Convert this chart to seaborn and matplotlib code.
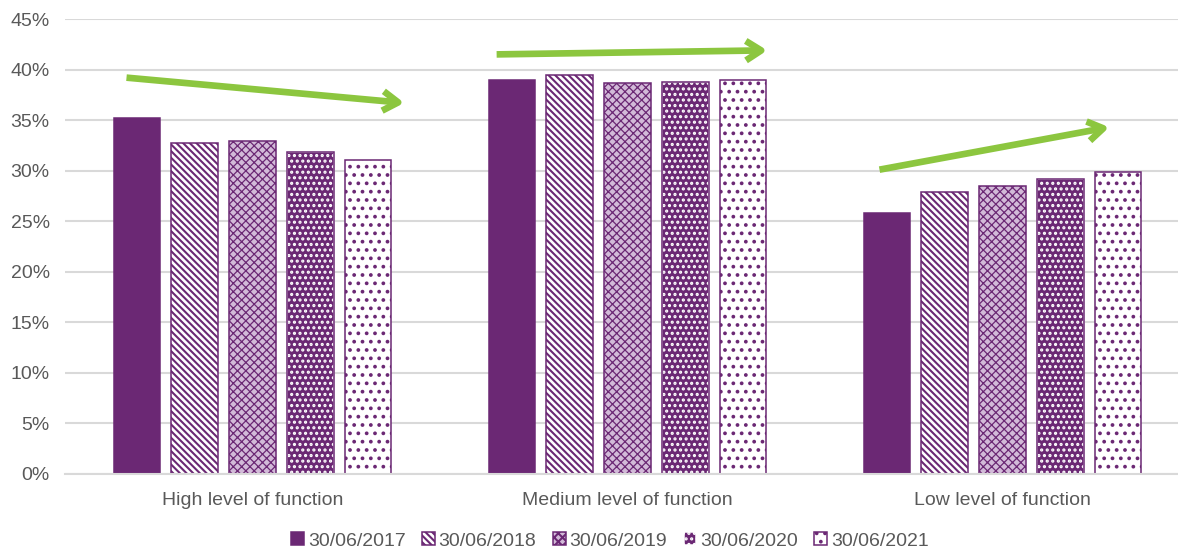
import numpy as np
import pandas as pd
import matplotlib
matplotlib.use('Agg')
import matplotlib.pyplot as plt
import seaborn as sns
from matplotlib.patches import Rectangle
from matplotlib.ticker import FuncFormatter

levels = ['High level of function', 'Medium level of function', 'Low level of function']
dates = ['30/06/2017', '30/06/2018', '30/06/2019', '30/06/2020', '30/06/2021']
share_2017 = [35.2, 39.0, 25.8]
share_2018 = [32.7, 39.5, 27.9]
share_2019 = [32.9, 38.7, 28.5]
share_2020 = [31.8, 38.8, 29.2]
share_2021 = [31.1, 39.0, 29.9]

# trend arrows (x in category units, y in %)
arrow_start = [(-0.336, 39.2), (0.651, 41.5), (1.672, 30.1)]
arrow_end = [(0.405, 36.7), (1.373, 41.9), (2.285, 34.3)]

purple = '#6b2874'
green = '#8cc63f'
grey_txt = '#595959'

rows = []
for d, vals in zip(dates, [share_2017, share_2018, share_2019, share_2020, share_2021]):
    for lvl, v in zip(levels, vals):
        rows.append({'level': lvl, 'date': d, 'share': v})
df = pd.DataFrame(rows)

sns.set_style('white')
plt.rcParams['font.family'] = ['Liberation Sans', 'DejaVu Sans']
plt.rcParams['hatch.linewidth'] = 1.5

fig = plt.figure(figsize=(11.78, 5.52), dpi=100)
ax = fig.add_axes([65 / 1178, 78 / 552, 1 - 65 / 1178, 455 / 552])

sns.barplot(data=df, x='level', y='share', hue='date', order=levels, hue_order=dates,
            palette=[purple] * 5, saturation=1, width=0.77, gap=0.19, legend=False, ax=ax)

styles = [
    dict(face=purple, edge=purple, hatch=None, hlw=1.5),
    dict(face='white', edge=purple, hatch='\\' * 5, hlw=1.5),
    dict(face='#d2bad8', edge=purple, hatch='x' * 4, hlw=0.9),
    dict(face=purple, edge='white', hatch='.' * 3, hlw=1.5),
    dict(face='white', edge=purple, hatch='..', hlw=1.5),
]
for cont, st in zip(ax.containers, styles):
    for bar in cont:
        bar.set_facecolor(st['face'])
        bar.set_edgecolor(st['edge'])
        bar.set_linewidth(1.1)
        if st['hatch']:
            bar.set_hatch(st['hatch'])
        if hasattr(bar, 'set_hatch_linewidth'):
            bar.set_hatch_linewidth(st['hlw'])
        if st['edge'] != purple:
            ax.add_patch(Rectangle(bar.get_xy(), bar.get_width(), bar.get_height(),
                                   fill=False, edgecolor=purple, linewidth=1.1, zorder=bar.get_zorder() + 0.1))

for (x0, y0), (x1, y1) in zip(arrow_start, arrow_end):
    ax.annotate('', xy=(x1, y1), xytext=(x0, y0),
                arrowprops=dict(arrowstyle='->,head_length=1.1,head_width=0.7', color=green,
                                lw=4.8, shrinkA=0, shrinkB=0, capstyle='butt'))

ax.set_ylim(0, 45)
ax.set_xlim(-0.5, 2.5 - 12 / 375)
ax.set_yticks(np.arange(0, 46, 5))
ax.yaxis.set_major_formatter(FuncFormatter(lambda v, p: f'{v:.0f}%'))
ax.grid(axis='y', color='#d9d9d9', linewidth=1.5)
ax.set_axisbelow(True)
for s in ['top', 'right', 'left']:
    ax.spines[s].set_visible(False)
ax.spines['bottom'].set_color('#d9d9d9')
ax.spines['bottom'].set_linewidth(1.5)
ax.tick_params(axis='y', length=0, pad=11, labelsize=14, labelcolor=grey_txt)
ax.tick_params(axis='x', length=0, pad=13, labelsize=14, labelcolor=grey_txt)
ax.set_xlabel('')
ax.set_ylabel('')

handles = [c.patches[0] for c in ax.containers]
ax.legend(handles, dates, loc='lower center', bbox_to_anchor=(610 / 1178, -0.01), bbox_transform=fig.transFigure,
          ncol=5, frameon=False, fontsize=14, labelcolor=grey_txt, handlelength=0.65,
          handleheight=0.65, handletextpad=0.2, columnspacing=0.85, borderaxespad=0.0)

fig.savefig('out.png', dpi=100)
